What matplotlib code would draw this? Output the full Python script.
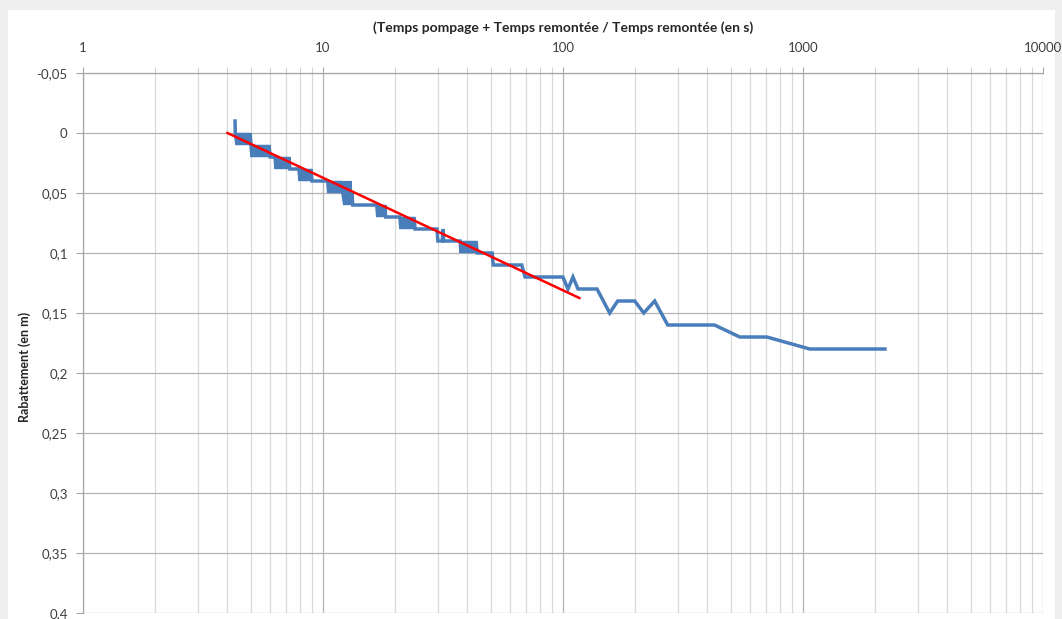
import matplotlib
matplotlib.use("Agg")
import matplotlib.pyplot as plt
from matplotlib.ticker import FixedLocator, LogLocator, NullFormatter, FixedFormatter
from matplotlib.patches import Rectangle

# ---- data ----
x_data = [4.30, 4.31, 4.38, 4.45, 4.51, 4.57, 4.63, 4.70, 4.77, 4.84, 4.92, 4.97, 5.01,
          5.06, 5.11, 5.16, 5.21, 5.26, 5.31, 5.36, 5.42, 5.47, 5.52, 5.57, 5.63, 5.68, 5.74, 5.79, 5.85, 5.90, 5.96, 6.02,
          6.31, 6.37, 6.43, 6.49, 6.55, 6.61, 6.68, 6.74, 6.81, 6.87, 6.94, 7.00, 7.07, 7.14, 7.21, 7.28,
          7.94, 8.02, 8.10, 8.17, 8.25, 8.33, 8.41, 8.49, 8.58, 8.66, 8.74, 8.83, 8.91, 9.00,
          10.46, 10.56, 10.67, 10.77, 10.87, 10.98, 11.08, 11.19, 11.30, 11.41, 11.52, 11.63, 11.74, 11.86, 11.97,
          12.10, 12.32, 12.45, 12.57, 12.69, 12.81, 12.94, 13.06, 13.18, 13.31,
          16.75, 16.91, 17.07, 17.23, 17.40, 17.57, 17.74, 17.91, 18.08, 18.26,
          20.91, 21.11, 21.32, 21.52, 21.73, 21.94, 22.15, 22.36, 22.58, 22.80, 23.02, 23.24, 23.47, 23.70, 23.93, 24.20,
          29.85, 30.10, 31.40, 31.62, 31.85,
          37.24, 37.60, 37.96, 38.33, 38.70, 39.07, 39.45, 39.83, 40.22, 40.60, 41.00, 41.40, 41.80, 42.20, 42.61, 43.00, 43.44, 43.90,
          50.69, 51.20, 67.3, 69.5, 99.9, 104.9, 110.0, 115.5,
          138.6, 156.5, 169.0, 199.0, 217.0, 241.0, 273.0, 428.0, 545.0, 707.0, 1067.0, 2195.0]
y_data = [-0.01, 0.00, 0.01, 0.00, 0.01, 0.00, 0.01, 0.00, 0.01, 0.00, 0.01, 0.00, 0.01,
          0.02, 0.01, 0.02, 0.01, 0.02, 0.01, 0.02, 0.01, 0.02, 0.01, 0.02, 0.01, 0.02, 0.01, 0.02, 0.01, 0.02, 0.01, 0.02,
          0.02, 0.03, 0.02, 0.03, 0.02, 0.03, 0.02, 0.03, 0.02, 0.03, 0.02, 0.03, 0.02, 0.03, 0.02, 0.03,
          0.03, 0.04, 0.03, 0.04, 0.03, 0.04, 0.03, 0.04, 0.03, 0.04, 0.03, 0.04, 0.03, 0.04,
          0.04, 0.05, 0.04, 0.05, 0.04, 0.05, 0.04, 0.05, 0.04, 0.05, 0.04, 0.05, 0.04, 0.05, 0.04,
          0.05, 0.06, 0.04, 0.06, 0.05, 0.06, 0.04, 0.06, 0.05, 0.06,
          0.06, 0.07, 0.06, 0.07, 0.06, 0.07, 0.06, 0.07, 0.06, 0.07,
          0.07, 0.08, 0.07, 0.08, 0.07, 0.08, 0.07, 0.08, 0.07, 0.08, 0.07, 0.08, 0.07, 0.08, 0.07, 0.08,
          0.08, 0.09, 0.09, 0.08, 0.09,
          0.09, 0.10, 0.09, 0.10, 0.09, 0.10, 0.09, 0.10, 0.09, 0.10, 0.09, 0.10, 0.09, 0.10, 0.09, 0.10, 0.09, 0.10,
          0.10, 0.11, 0.11, 0.12, 0.12, 0.13, 0.12, 0.13,
          0.13, 0.15, 0.14, 0.14, 0.15, 0.14, 0.16, 0.16, 0.17, 0.17, 0.18, 0.18]

fit_x = [4.0, 117.0]
fit_y = [0.0, 0.1375]

y_ticks = [-0.05, 0.0, 0.05, 0.1, 0.15, 0.2, 0.25, 0.3, 0.35, 0.4]
y_tick_labels = ["-0,05", "0", "0,05", "0,1", "0,15", "0,2", "0,25", "0,3", "0,35", "0,4"]
x_ticks = [1, 10, 100, 1000, 10000]
x_tick_labels = ["1", "10", "100", "1000", "10000"]

x_title = "(Temps pompage + Temps remontée / Temps remontée (en s)"
y_title = "Rabattement (en m)"

# ---- figure ----
plt.rcParams['font.family'] = ['Lato', 'DejaVu Sans']
W, H = 1062, 619
fig = plt.figure(figsize=(W / 100, H / 100), dpi=100, facecolor='#eeeeee')
bg = Rectangle((8 / W, 0), (1055 - 8) / W, (H - 10) / H,
               transform=fig.transFigure, facecolor='white',
               edgecolor='none', zorder=-10)
fig.add_artist(bg)

ax = fig.add_axes([83 / W, (H - 613) / H, 960 / W, 540 / H])
ax.set_zorder(5)
ax.set_facecolor('none')
ax.set_xscale('log')
ax.set_xlim(1, 10000)
ax.set_ylim(0.4, -0.05)

ax.plot(x_data, y_data, color='#4a7ebb', lw=2.5, solid_joinstyle='miter', zorder=3)
ax.plot(fit_x, fit_y, color='#ff0000', lw=1.8, zorder=4)

# ticks / labels
ax.xaxis.set_ticks_position('top')
ax.xaxis.set_label_position('top')
ax.xaxis.set_major_locator(FixedLocator(x_ticks))
ax.xaxis.set_major_formatter(FixedFormatter(x_tick_labels))
ax.xaxis.set_minor_locator(LogLocator(base=10, subs=[2, 3, 4, 5, 6, 7, 8, 9]))
ax.xaxis.set_minor_formatter(NullFormatter())
ax.yaxis.set_major_locator(FixedLocator(y_ticks))
ax.yaxis.set_major_formatter(FixedFormatter(y_tick_labels))

ax.tick_params(axis='x', which='major', direction='out', length=4, width=0.8,
               color='#a6a6a6', labelsize=9.5, labelcolor='#404040', pad=10)
ax.tick_params(axis='x', which='minor', direction='out', length=4, width=0.8, color='#d0d0d0')
ax.tick_params(axis='y', which='major', direction='out', length=5, width=0.8,
               color='#a6a6a6', labelsize=9.5, labelcolor='#404040', pad=6)

ax.grid(True, which='major', axis='x', color='#b3b3b3', lw=0.9)
ax.grid(True, which='minor', axis='x', color='#d9d9d9', lw=0.9)
ax.grid(True, which='major', axis='y', color='#b3b3b3', lw=0.9)
ax.set_axisbelow(True)

for side in ['top', 'left']:
    ax.spines[side].set_color('#a6a6a6')
    ax.spines[side].set_linewidth(0.9)
for side in ['right', 'bottom']:
    ax.spines[side].set_visible(False)

ax.set_xlabel(x_title, fontsize=10, fontweight='bold', color='#262626', labelpad=7)
ax.set_ylabel(y_title, fontsize=9, fontweight='bold', color='#262626')
ax.yaxis.set_label_coords(-0.054, 0.455)

fig.savefig('out.png', dpi=100, facecolor=fig.get_facecolor())
